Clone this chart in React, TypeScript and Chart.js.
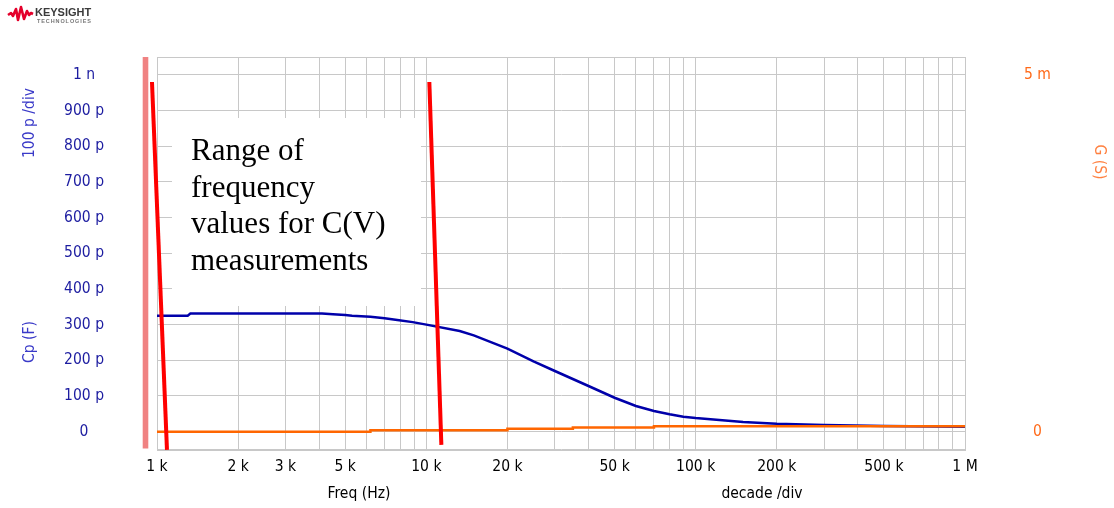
import React, { useEffect, useRef } from "react";
import { Chart, registerables } from "chart.js";
Chart.register(...registerables);

// ---- data ----
const freqCp = [1000, 1300, 1330, 1500, 2000, 3000, 4100, 4500, 5000, 5300, 6200, 7000, 7800, 8900, 10000, 13300, 15000, 20000, 25000, 30000, 40000, 50000, 60000, 70000, 80000, 90000, 100000, 150000, 200000, 300000, 500000, 1000000];
const cpValuesPf = [325, 325, 331, 331, 331, 331, 331, 329, 327, 325, 322, 318, 313, 307, 300, 282, 270, 233, 197, 170, 128, 95, 72, 58, 49, 42, 38, 27, 22, 19, 16, 14];
const freqG = [1000, 6200, 20000, 35000, 70000, 1000000];
const gValuesMs = [0, 0.02, 0.04, 0.06, 0.075, 0.075];

const xGridValues = [1000, 2000, 3000, 4000, 5000, 6000, 7000, 8000, 9000, 10000, 20000, 30000, 40000, 50000, 60000, 70000, 80000, 90000, 100000, 200000, 300000, 400000, 500000, 600000, 700000, 800000, 900000, 1000000];
const xLabelValues = [1000, 2000, 3000, 5000, 10000, 20000, 50000, 100000, 200000, 500000, 1000000];
const xLabelTexts = ["1 k", "2 k", "3 k", "5 k", "10 k", "20 k", "50 k", "100 k", "200 k", "500 k", "1 M"];
const cpTickValues = [0, 100, 200, 300, 400, 500, 600, 700, 800, 900, 1000];
const cpTickLabels = ["0", "100 p", "200 p", "300 p", "400 p", "500 p", "600 p", "700 p", "800 p", "900 p", "1 n"];
const gTickValues = [0, 5];
const gTickLabels = ["0", "5 m"];

// annotation: range lines (freq, pF) endpoints
const rangeLines = [
  { f1: 958, v1: 980, f2: 1089, v2: -51 },
  { f1: 10260, v1: 980, f2: 11370, v2: -37 },
];
const noteLines = ["Range of", "frequency", "values for C(V)", "measurements"];

const FONT = "'DejaVu Sans Condensed', 'DejaVu Sans', sans-serif";
const FS = 15.5;
const BLUE_TXT = "#1c1ca0";
const ORANGE_TXT = "#ff6a1a";
const GRID = "#c8c8c8";

const decor = {
  id: "decor",
  beforeDatasetsDraw(chart: any) {
    const { ctx, chartArea: a } = chart;
    ctx.save();
    // frame
    ctx.strokeStyle = GRID;
    ctx.lineWidth = 1;
    ctx.strokeRect(Math.round(a.left) + 0.5, Math.round(a.top) + 0.5, Math.round(a.right - a.left), Math.round(a.bottom - a.top));
    // pink bar
    ctx.fillStyle = "#f08282";
    ctx.fillRect(a.left - 14.3, a.top, 5.6, a.bottom - a.top - 1);
    // white note box
    ctx.fillStyle = "#ffffff";
    ctx.fillRect(172, 118, 249, 188);
    ctx.fillStyle = "#000";
    ctx.font = "31px 'Liberation Serif', 'Times New Roman', serif";
    ctx.textAlign = "left";
    ctx.textBaseline = "alphabetic";
    noteLines.forEach((t, i) => ctx.fillText(t, 191, 160 + i * 36.7));
    ctx.restore();
  },
  afterDatasetsDraw(chart: any) {
    const { ctx } = chart;
    const xs = chart.scales.x;
    const ys = chart.scales.yC;
    ctx.save();
    // red range lines
    ctx.strokeStyle = "#ff0000";
    ctx.lineWidth = 4;
    rangeLines.forEach((l) => {
      ctx.beginPath();
      ctx.moveTo(xs.getPixelForValue(l.f1), ys.getPixelForValue(l.v1));
      ctx.lineTo(xs.getPixelForValue(l.f2), ys.getPixelForValue(l.v2));
      ctx.stroke();
    });
    // axis titles
    ctx.font = FS + "px " + FONT;
    ctx.textAlign = "center";
    ctx.textBaseline = "middle";
    ctx.fillStyle = "#000";
    ctx.fillText("Freq (Hz)", 359, 494);
    ctx.fillText("decade /div", 762, 494);
    ctx.fillStyle = "#3a3ac8";
    ctx.save();
    ctx.translate(30, 123);
    ctx.rotate(-Math.PI / 2);
    ctx.fillText("100 p /div", 0, 0);
    ctx.restore();
    ctx.save();
    ctx.translate(30, 342);
    ctx.rotate(-Math.PI / 2);
    ctx.fillText("Cp (F)", 0, 0);
    ctx.restore();
    ctx.fillStyle = "#ff8040";
    ctx.save();
    ctx.translate(1099, 162);
    ctx.rotate(Math.PI / 2);
    ctx.fillText("G (S)", 0, 0);
    ctx.restore();
    // logo
    ctx.strokeStyle = "#e4002b";
    ctx.lineWidth = 2.6;
    ctx.lineJoin = "round";
    const wave = [[8, 15], [11, 13], [13, 16], [16, 9], [18, 20], [21, 7], [24, 19], [27, 11], [29, 15], [31, 13], [33, 14]];
    ctx.beginPath();
    wave.forEach(([x, y], i) => (i ? ctx.lineTo(x, y) : ctx.moveTo(x, y)));
    ctx.stroke();
    ctx.textAlign = "left";
    ctx.textBaseline = "alphabetic";
    ctx.fillStyle = "#3a3a3a";
    ctx.font = "bold 11px 'Liberation Sans', Arial, sans-serif";
    ctx.fillText("KEYSIGHT", 35, 16);
    ctx.fillStyle = "#777";
    ctx.font = "bold 5.5px 'Liberation Sans', Arial, sans-serif";
    (ctx as any).letterSpacing = "0.9px";
    ctx.fillText("TECHNOLOGIES", 37, 23);
    ctx.restore();
  },
};

export default function App() {
  const ref = useRef<HTMLCanvasElement>(null);
  useEffect(() => {
    if (!ref.current) return;
    const chart = new Chart(ref.current, {
      type: "line",
      data: {
        datasets: [
          {
            label: "Cp",
            data: freqCp.map((f, i) => ({ x: f, y: cpValuesPf[i] })),
            yAxisID: "yC",
            borderColor: "#0000aa",
            borderWidth: 2.5,
            pointRadius: 0,
            tension: 0,
            order: 1,
          },
          {
            label: "G",
            data: freqG.map((f, i) => ({ x: f, y: gValuesMs[i] })),
            yAxisID: "yG",
            borderColor: "#ff6600",
            borderWidth: 2.5,
            pointRadius: 0,
            stepped: true,
            order: 0,
          },
        ],
      },
      options: {
        responsive: false,
        animation: false,
        events: [],
        layout: { padding: { top: 57, left: 0, right: 0, bottom: 0 } },
        plugins: { legend: { display: false }, title: { display: false }, tooltip: { enabled: false } },
        scales: {
          x: {
            type: "logarithmic",
            position: "bottom",
            min: 1000,
            max: 1000000,
            afterBuildTicks: (s: any) => {
              s.ticks = xGridValues.map((v) => ({ value: v }));
            },
            afterFit: (s: any) => {
              s.height = 58.5;
              s.paddingLeft = 0;
              s.paddingRight = 0;
              s.paddingTop = 0;
              s.paddingBottom = 0;
            },
            grid: { color: GRID, lineWidth: 1, drawTicks: false },
            border: { display: true, color: GRID },
            ticks: {
              autoSkip: false,
              maxRotation: 0,
              minRotation: 0,
              padding: 8,
              color: "#000",
              font: { family: FONT, size: FS },
              callback: (v: any) => {
                const i = xLabelValues.indexOf(Math.round(Number(v)));
                return i >= 0 ? xLabelTexts[i] : "";
              },
            },
          },
          yC: {
            type: "linear",
            position: "left",
            min: -50,
            max: 1050,
            afterBuildTicks: (s: any) => {
              s.ticks = cpTickValues.map((v) => ({ value: v }));
            },
            afterFit: (s: any) => {
              s.width = 157;
              s.paddingTop = 0;
              s.paddingBottom = 0;
              s.paddingLeft = 0;
              s.paddingRight = 0;
            },
            grid: { color: GRID, lineWidth: 1, drawTicks: false },
            border: { display: true, color: GRID },
            ticks: {
              crossAlign: "center",
              padding: 53,
              color: BLUE_TXT,
              font: { family: FONT, size: FS },
              callback: (v: any) => {
                const i = cpTickValues.indexOf(Math.round(Number(v)));
                return i >= 0 ? cpTickLabels[i] : "";
              },
            },
          },
          yG: {
            type: "linear",
            position: "right",
            min: -0.25,
            max: 5.25,
            afterBuildTicks: (s: any) => {
              s.ticks = gTickValues.map((v) => ({ value: v }));
            },
            afterFit: (s: any) => {
              s.width = 149;
              s.paddingTop = 0;
              s.paddingBottom = 0;
              s.paddingLeft = 0;
              s.paddingRight = 0;
            },
            grid: { display: false, drawTicks: false },
            border: { display: true, color: GRID },
            ticks: {
              crossAlign: "center",
              padding: 59,
              color: ORANGE_TXT,
              font: { family: FONT, size: FS },
              callback: (v: any) => {
                const i = gTickValues.indexOf(Number(v));
                return i >= 0 ? gTickLabels[i] : "";
              },
            },
          },
        },
      } as any,
      plugins: [decor],
    });
    return () => chart.destroy();
  }, []);
  return (
    <div style={{ position: "fixed", left: 0, top: 0, width: 1114, height: 508, background: "#fff" }}>
      <canvas ref={ref} width={1114} height={508} />
    </div>
  );
}
